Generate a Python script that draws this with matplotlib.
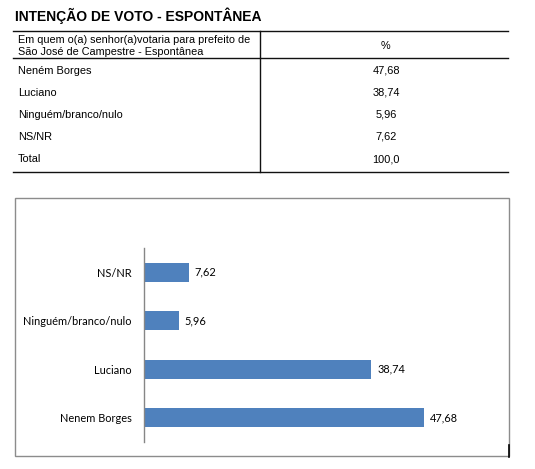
import matplotlib.pyplot as plt
from matplotlib.lines import Line2D
from matplotlib.patches import Rectangle

W, H = 535, 469

title = "INTENÇÃO DE VOTO - ESPONTÂNEA"
header_q = ["Em quem o(a) senhor(a)votaria para prefeito de",
            "São José de Campestre - Espontânea"]
header_pct = "%"
table_names = ["Neném Borges", "Luciano", "Ninguém/branco/nulo", "NS/NR", "Total"]
table_values = ["47,68", "38,74", "5,96", "7,62", "100,0"]

# chart categories, bottom to top
bar_names = ["Nenem Borges", "Luciano", "Ninguém/branco/nulo", "NS/NR"]
bar_values = [47.68, 38.74, 5.96, 7.62]
bar_color = "#4f81bd"


def fx(x):
    return x / W


def fy(y):
    return 1 - y / H


fig = plt.figure(figsize=(W / 100, H / 100), dpi=100)
tfont = ["Liberation Sans", "DejaVu Sans"]

# title
fig.text(fx(15), fy(15.5), title, fontsize=10, fontweight="bold", family=tfont,
         va="center", ha="left")

# table lines
for y in (31.5, 58.3, 172):
    fig.add_artist(Line2D([fx(13), fx(508)], [fy(y), fy(y)], color="#111111", lw=1.0))
fig.add_artist(Line2D([fx(260), fx(260)], [fy(31.5), fy(172)], color="#111111", lw=1.0))

# table header
for line, y in zip(header_q, (40, 51.5)):
    fig.text(fx(18), fy(y), line, fontsize=7.8, family=tfont, va="center", ha="left")
fig.text(fx(385), fy(46), header_pct, fontsize=7.8, family=tfont, va="center", ha="center")

# table rows
row_y = [70.5, 92.5, 114.5, 136.5, 159]
for name, val, y in zip(table_names, table_values, row_y):
    fig.text(fx(18), fy(y), name, fontsize=7.9, family=tfont, va="center", ha="left")
    fig.text(fx(386), fy(y), val, fontsize=7.9, family=tfont, va="center", ha="center")

# chart box
fig.add_artist(Rectangle((fx(15), fy(456)), fx(509) - fx(15), fy(198) - fy(456),
                         fill=False, edgecolor="#8c8c8c", lw=1.0))
fig.add_artist(Line2D([fx(509), fx(509)], [fy(445), fy(457)], color="black", lw=1.2))

# bar chart
ax = fig.add_axes([fx(144), fy(442), fx(496) - fx(144), fy(248) - fy(442)])
ypos = list(range(len(bar_names)))
ax.barh(ypos, bar_values, height=0.39, color=bar_color)
ax.set_xlim(0, 60)
ax.set_ylim(-0.5, len(bar_names) - 0.5)
ax.set_yticks(ypos)
ax.set_yticklabels(bar_names, family=["Lato", "DejaVu Sans"], fontsize=7.9)
ax.tick_params(axis="y", length=0, pad=9)
ax.set_xticks([])
for s in ("top", "right", "bottom"):
    ax.spines[s].set_visible(False)
ax.spines["left"].set_color("#868686")
ax.spines["left"].set_linewidth(1.0)
ax.patch.set_alpha(0)

for y, v in zip(ypos, bar_values):
    ax.text(v + 1.0, y, f"{v:.2f}".replace(".", ","), va="center", ha="left",
            family=["Lato", "DejaVu Sans"], fontsize=7.9)

fig.savefig("out.png", dpi=100)
